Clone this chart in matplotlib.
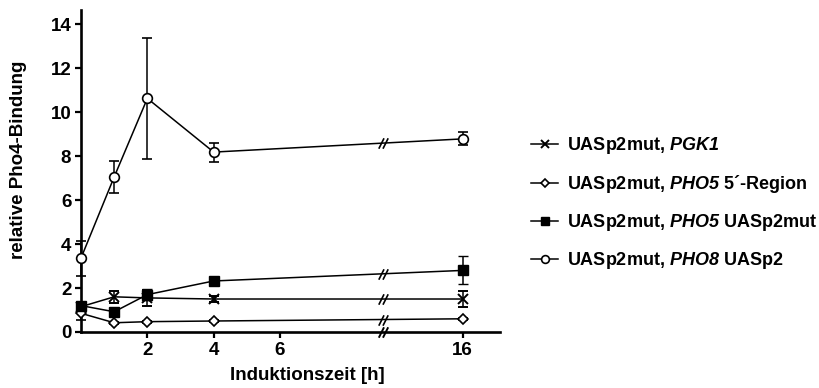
import numpy as np
import matplotlib
matplotlib.use("Agg")
import matplotlib.pyplot as plt
from matplotlib.path import Path

plt.rcParams['font.family'] = ['Liberation Sans', 'DejaVu Sans']
plt.rcParams['font.weight'] = 'bold'
# math segments hold only the italic gene names (letters and digits)
plt.rcParams['mathtext.fontset'] = 'custom'
plt.rcParams['mathtext.it'] = 'Liberation Sans:italic:bold'
plt.rcParams['mathtext.rm'] = 'Liberation Sans:italic:bold'
plt.rcParams['mathtext.bf'] = 'Liberation Sans:italic:bold'

# Induction time points [h]
time_h = np.array([0, 1, 2, 4, 16])

# Relative Pho4 binding (mean, error)
pgk1 = [1.15, 1.6, 1.55, 1.5, 1.5]
pgk1_err = [0.1, 0.28, 0.35, 0.12, 0.38]

pho5_5region = [0.85, 0.42, 0.47, 0.5, 0.6]
pho5_5region_err = [0.3, 0.05, 0.05, 0.05, 0.05]

pho5_uasp2mut = [1.2, 0.92, 1.7, 2.32, 2.8]
pho5_uasp2mut_err = [0.1, 0.1, 0.25, 0.1, 0.64]

pho8_uasp2 = [3.36, 7.05, 10.62, 8.18, 8.78]
pho8_uasp2_err = [0.8, 0.72, 2.74, 0.43, 0.3]

series_labels = [
    r"UASp2mut, $\mathit{PGK1}$",
    r"UASp2mut, $\mathit{PHO5}$ 5´-Region",
    r"UASp2mut, $\mathit{PHO5}$ UASp2mut",
    r"UASp2mut, $\mathit{PHO8}$ UASp2",
]

xtick_times = [2, 4, 6, 16]
ytick_values = [0, 2, 4, 6, 8, 10, 12, 14]

# Broken time axis: linear up to CUT, compressed beyond it
CUT = 8.0
COMPRESS = 3.5 / 8.0
BREAK_POS = 9.1


def axis_pos(t):
    t = np.asarray(t, dtype=float)
    return np.where(t <= CUT, t, CUT + (t - CUT) * COMPRESS)


# "//" break marker
slash = Path([(-4.5, -5), (0.5, 5), (-0.5, -5), (4.5, 5)],
             [Path.MOVETO, Path.LINETO, Path.MOVETO, Path.LINETO])

fig = plt.figure(figsize=(8.19, 3.88), dpi=100)
ax = fig.add_axes([81 / 819, 56 / 388, (500 - 81) / 819, 322 / 388])

xp = axis_pos(time_h)

styles = [
    dict(marker='x', ms=7, mfc='black', mec='black', mew=1.4),
    dict(marker='D', ms=5.5, mfc='white', mec='black', mew=1.2),
    dict(marker='s', ms=6.5, mfc='black', mec='black', mew=1.0),
    dict(marker='o', ms=7, mfc='white', mec='black', mew=1.2),
]
data = [(pgk1, pgk1_err), (pho5_5region, pho5_5region_err),
        (pho5_uasp2mut, pho5_uasp2mut_err), (pho8_uasp2, pho8_uasp2_err)]

handles = []
for i, ((y, err), st, lab) in enumerate(zip(data, styles, series_labels)):
    cont = ax.errorbar(xp, y, yerr=err, color='black', lw=1.1, elinewidth=1.1,
                       capsize=3.5, capthick=1.1, zorder=3 + i, label=lab, **st)
    for child in cont.get_children():
        child.set_clip_on(False)
    handles.append(cont[0])
    yb = np.interp(BREAK_POS, xp, y)
    ax.plot([BREAK_POS], [yb], ls='none', marker=slash, ms=7.5,
            mec='black', mew=1.2, zorder=8, clip_on=False)

# break on the time axis
ax.plot([BREAK_POS], [0], ls='none', marker=slash, ms=7.5,
        mec='black', mew=1.4, zorder=9, clip_on=False)

ax.set_xlim(0, 12.63)
ax.set_ylim(0, 14.64)
ax.set_xticks(axis_pos(xtick_times))
ax.set_xticklabels([str(t) for t in xtick_times])
ax.set_yticks(ytick_values)
ax.set_yticklabels([str(v) for v in ytick_values])

for side in ('top', 'right'):
    ax.spines[side].set_visible(False)
for side in ('left', 'bottom'):
    ax.spines[side].set_linewidth(1.9)
ax.tick_params(axis='both', direction='out', length=4, width=1.6,
               labelsize=13.5, pad=3)
for lbl in ax.get_xticklabels() + ax.get_yticklabels():
    lbl.set_fontweight('bold')

ax.set_xlabel("Induktionszeit [h]", fontsize=13.5, fontweight='bold')
ax.set_ylabel("relative Pho4-Bindung", fontsize=13.5, fontweight='bold')
ax.xaxis.set_label_coords(0.54, -0.108)
ax.yaxis.set_label_coords(-0.128, 0.534)

fig.legend(handles, series_labels, loc='upper left',
           bbox_to_anchor=(531 / 819, 1 - 135 / 388), frameon=False,
           fontsize=13, handlelength=1.5, handletextpad=0.5,
           labelspacing=0.95, borderpad=0, borderaxespad=0, markerscale=0.8)

fig.savefig("out.png", dpi=100)
